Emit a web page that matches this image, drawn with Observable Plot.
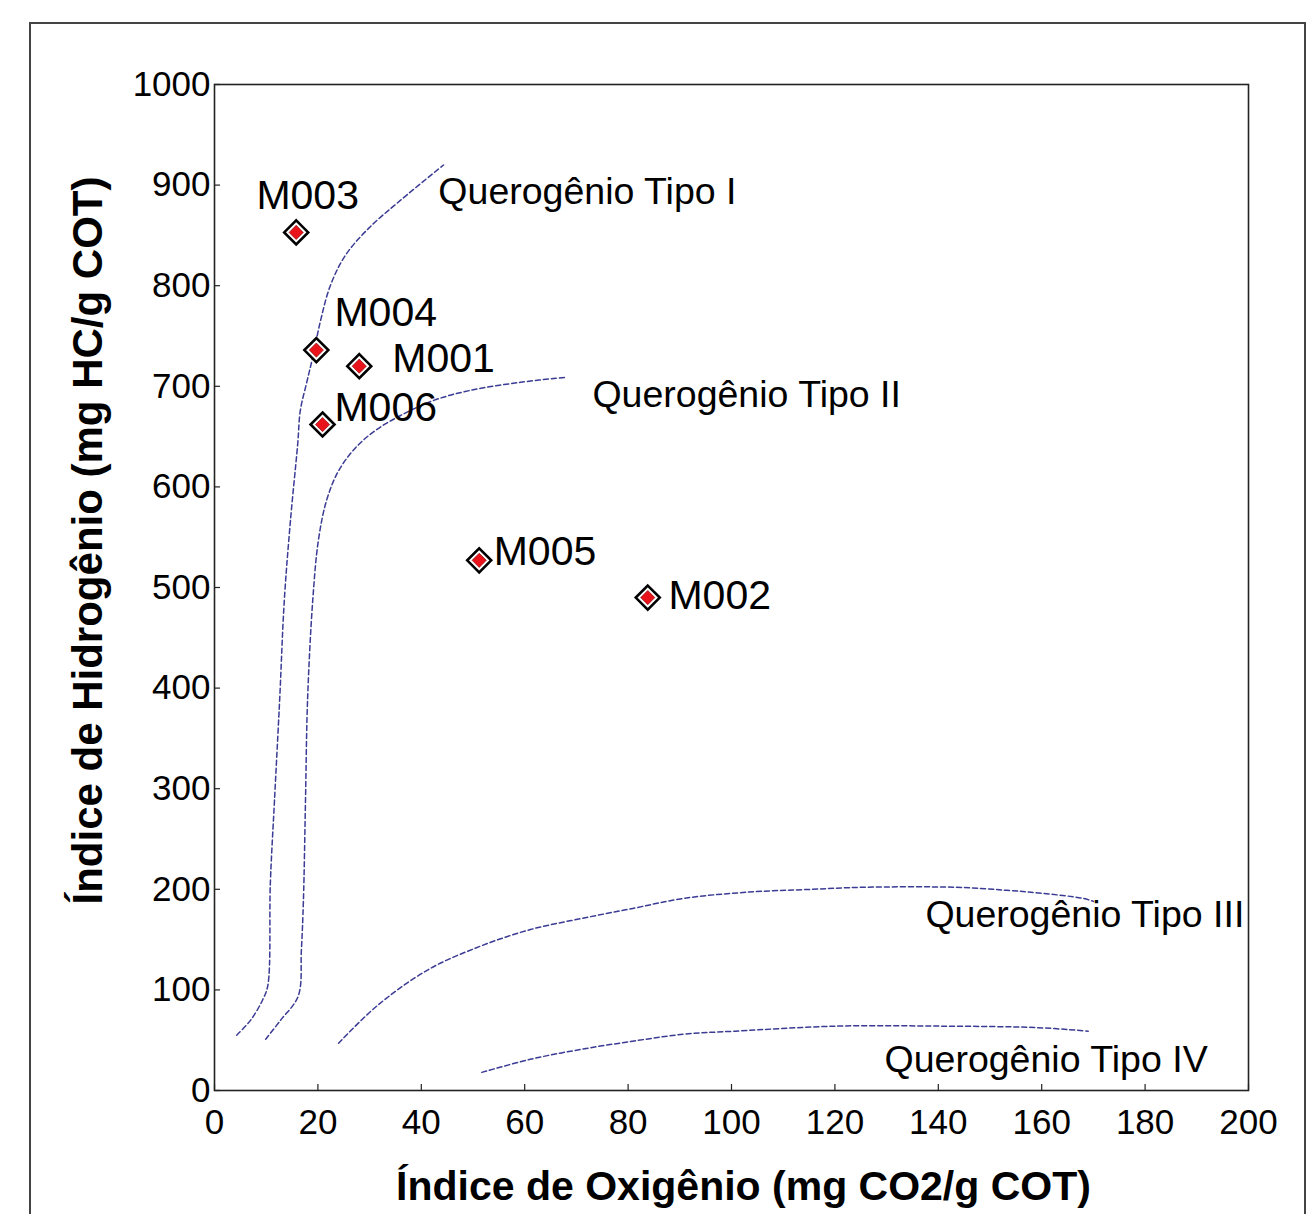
<!DOCTYPE html>
<html>
<head>
<meta charset="utf-8">
<script src="https://cdn.jsdelivr.net/npm/d3@7"></script>
<script src="https://cdn.jsdelivr.net/npm/@observablehq/plot@0.6"></script>
<style>
  html, body { margin: 0; padding: 0; background: #fff; overflow: hidden; }
  #wrap { position: relative; width: 1307px; height: 1214px; }
  #border { position: absolute; left: 29px; top: 22px; width: 1277px; height: 1230px; border: 2px solid #444; box-sizing: border-box; pointer-events: none; }
  svg { font-family: "Liberation Sans", Arial, sans-serif; }
</style>
</head>
<body>
<div id="wrap"><div id="border"></div></div>
<script>
// Samples (Índice de Oxigênio, Índice de Hidrogênio)
const samples = ["M001", "M002", "M003", "M004", "M005", "M006"];
const oiValues = [28.0, 83.8, 15.8, 19.7, 51.2, 20.9];
const hiValues = [720, 490, 853, 736, 527, 662];
// Label anchor positions in data units
const labelOI = [34.4, 87.8, 8.1, 23.2, 54.0, 23.2];
const labelHI = [727, 492, 889, 773, 535, 679];

// Kerogen type evolution curves
const tipoI_oi = [4.3, 7.0, 9.3, 10.3, 10.8, 11.6, 12.6, 13.5, 14.7, 16.1, 16.6, 17.8, 19.0, 20.5, 22.4, 25.3, 29.8, 36.0, 44.3];
const tipoI_hi = [55, 70, 90, 104, 206, 288, 388, 487, 567, 643, 676, 703, 729, 765, 800, 830, 857, 885, 920];
const tipoII_oi = [9.9, 12.8, 16.2, 16.8, 17.2, 17.6, 18.0, 19.0, 20.1, 21.7, 24.0, 27.3, 31.1, 36.0, 42.4, 49.5, 59.2, 68.1];
const tipoII_hi = [51, 70, 94, 139, 189, 288, 388, 487, 547, 587, 616, 639, 656, 671, 686, 696, 704, 709];
const tipoIII_oi = [24.0, 31.4, 41.3, 51.2, 61.1, 71.0, 80.9, 90.8, 102.7, 115.5, 125.4, 143.3, 153.2, 160.1, 168.0, 170.0];
const tipoIII_hi = [47, 84, 120, 143, 160, 171, 181, 191, 197, 200, 202, 202, 199, 196, 191, 188];
const tipoIV_oi = [51.7, 61.1, 71.0, 80.9, 90.8, 100.7, 120.5, 140.3, 159.1, 169.0];
const tipoIV_hi = [18, 31, 41, 49, 56, 59, 64, 64, 62.5, 59];

const curveNames = ["Querogênio Tipo I", "Querogênio Tipo II", "Querogênio Tipo III", "Querogênio Tipo IV"];
const curveLabelOI = [43.3, 73.1, 137.5, 129.6];
const curveLabelHI = [893, 691, 174, 30];

const xTicks = [0, 20, 40, 60, 80, 100, 120, 140, 160, 180, 200];
const yTicks = [0, 100, 200, 300, 400, 500, 600, 700, 800, 900, 1000];

const xTitle = "Índice de Oxigênio (mg CO2/g COT)";
const yTitle = "Índice de Hidrogênio (mg HC/g COT)";

// Build tables
const points = samples.map((s, i) => ({name: s, oi: oiValues[i], hi: hiValues[i], lx: labelOI[i], ly: labelHI[i]}));
const curveSets = [[tipoI_oi, tipoI_hi], [tipoII_oi, tipoII_hi], [tipoIII_oi, tipoIII_hi], [tipoIV_oi, tipoIV_hi]];
const curves = curveSets.flatMap(([xs, ys], k) => xs.map((x, i) => ({curve: curveNames[k], oi: x, hi: ys[i]})));
const curveLabels = curveNames.map((n, i) => ({name: n, oi: curveLabelOI[i], hi: curveLabelHI[i]}));

const W = 1307, H = 1214;
const mL = 214, mR = 59, mT = 84, mB = 124;
const frameW = W - mL - mR, frameH = H - mT - mB;

const chart = Plot.plot({
  width: W,
  height: H,
  marginLeft: mL,
  marginRight: mR,
  marginTop: mT,
  marginBottom: mB,
  style: {fontFamily: '"Liberation Sans", Arial, sans-serif', background: "transparent", color: "#000"},
  x: {domain: [0, 200]},
  y: {domain: [0, 1000]},
  marks: [
    Plot.line(curves, {x: "oi", y: "hi", z: "curve", curve: "catmull-rom", stroke: "#26268a", strokeWidth: 1.5, strokeDasharray: "5,3", strokeOpacity: 0.9}),
    Plot.frame({stroke: "#222", strokeWidth: 1.6}),
    Plot.tickX(xTicks, {x: d => d, insetTop: frameH - 6, stroke: "#222", strokeWidth: 1.2}),
    Plot.tickY(yTicks, {y: d => d, insetRight: frameW - 6, stroke: "#222", strokeWidth: 1.2}),
    Plot.axisX({ticks: xTicks, tickSize: 0, tickPadding: 19, fontSize: 35, label: null, tickFormat: d => String(d)}),
    Plot.axisY({ticks: yTicks, tickSize: 0, tickPadding: 4, fontSize: 35, label: null, tickFormat: d => String(d)}),
    Plot.text(curveLabels, {x: "oi", y: "hi", text: "name", textAnchor: "start", fontSize: 37.5, fill: "#000"}),
    Plot.dot(points, {x: "oi", y: "hi", symbol: "diamond2", r: 10.8, fill: "#fff", stroke: "#000", strokeWidth: 2.6}),
    Plot.dot(points, {x: "oi", y: "hi", symbol: "diamond2", r: 6.4, fill: "#e8131b", stroke: "#7a0000", strokeWidth: 0.6}),
    Plot.text(points, {x: "lx", y: "ly", text: "name", textAnchor: "start", fontSize: 41, fill: "#000"}),
    Plot.text([xTitle], {frameAnchor: "bottom", textAnchor: "middle", lineAnchor: "middle", dx: 12, dy: 96, fontSize: 41, fontWeight: "bold", fill: "#000"}),
    Plot.text([yTitle], {frameAnchor: "left", textAnchor: "middle", lineAnchor: "middle", dx: -126, dy: -47, rotate: -90, fontSize: 42, fontWeight: "bold", fill: "#000"})
  ]
});

document.getElementById("wrap").prepend(chart);
chart.style.position = "absolute";
chart.style.left = "0px";
chart.style.top = "0px";
</script>
</body>
</html>
